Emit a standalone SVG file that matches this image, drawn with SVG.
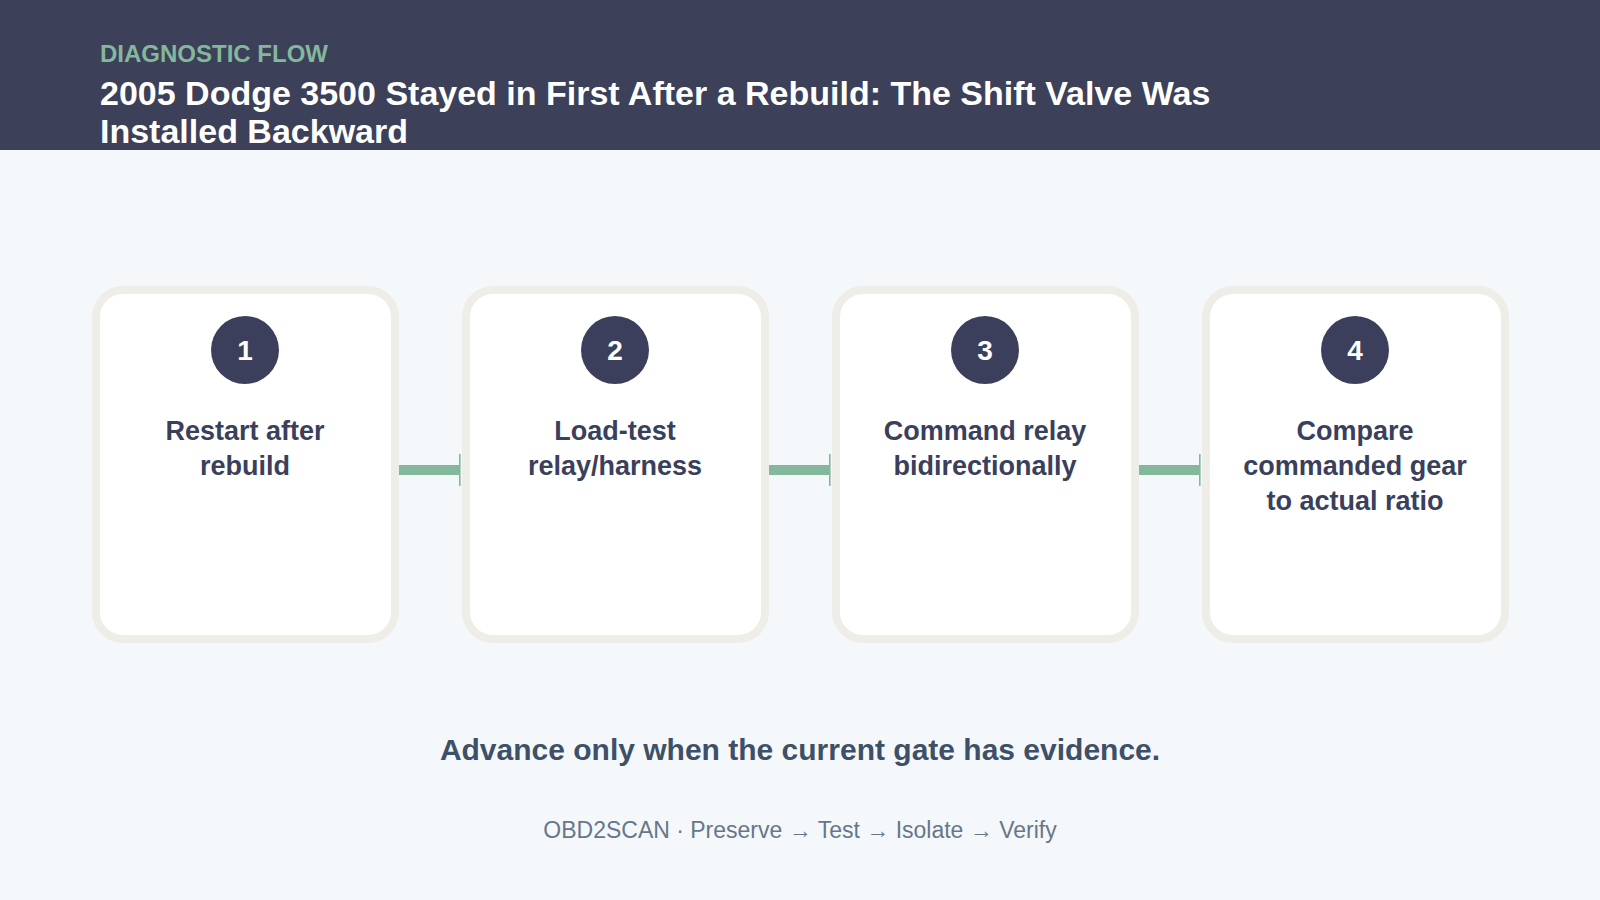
<svg xmlns="http://www.w3.org/2000/svg" width="1600" height="900" viewBox="0 0 1600 900">
<defs>
<style>
.bg{fill:#F5F8FB}
.band{fill:#3C4059}
.eyebrow{font-family:"Liberation Sans",Arial,sans-serif;font-weight:700;font-size:24px;fill:#84B89C}
.title{font-family:"Liberation Sans",Arial,sans-serif;font-weight:700;font-size:34px;fill:#FFFFFF}
.card{fill:#FFFFFF;stroke:#EEEDE8;stroke-width:8}
.badge{fill:#3B3F5B}
.num{font-family:"Liberation Sans",Arial,sans-serif;font-weight:700;font-size:28px;fill:#FFFFFF;text-anchor:middle}
.label{font-family:"Liberation Sans",Arial,sans-serif;font-weight:700;font-size:27px;fill:#3A3F5C;text-anchor:middle}
.conn{stroke:#84B89C;stroke-width:10;fill:none}
.note{font-family:"Liberation Sans",Arial,sans-serif;font-weight:700;font-size:30px;fill:#3E5068;text-anchor:middle}
.foot{font-family:"Liberation Sans",Arial,sans-serif;font-size:23px;fill:#677789;text-anchor:middle}
</style>
<marker id="tick" markerUnits="userSpaceOnUse" markerWidth="2" markerHeight="32" viewBox="0 0 2 32" refX="1" refY="16" orient="auto">
<rect x="0" y="0" width="1.6" height="32" fill="#84B89C"/>
</marker>
</defs>
<rect class="bg" x="0" y="0" width="1600" height="900"/>
<g id="header">
<rect class="band" x="0" y="0" width="1600" height="150"/>
<text class="eyebrow" x="100" y="62">DIAGNOSTIC FLOW</text>
<text class="title" x="100" y="105">2005 Dodge 3500 Stayed in First After a Rebuild: The Shift Valve Was</text>
<text class="title" x="100" y="143">Installed Backward</text>
</g>
<g id="connectors">
<line class="conn" x1="398" y1="470" x2="460" y2="470" marker-end="url(#tick)"/>
<line class="conn" x1="768" y1="470" x2="830" y2="470" marker-end="url(#tick)"/>
<line class="conn" x1="1138" y1="470" x2="1200" y2="470" marker-end="url(#tick)"/>
</g>
<g id="step1">
<rect class="card" x="96" y="290" width="299" height="349" rx="27"/>
<circle class="badge" cx="245" cy="350" r="34"/>
<text class="num" x="245" y="360">1</text>
<text class="label" x="245" y="440">Restart after</text>
<text class="label" x="245" y="475">rebuild</text>
</g>
<g id="step2">
<rect class="card" x="466" y="290" width="299" height="349" rx="27"/>
<circle class="badge" cx="615" cy="350" r="34"/>
<text class="num" x="615" y="360">2</text>
<text class="label" x="615" y="440">Load-test</text>
<text class="label" x="615" y="475">relay/harness</text>
</g>
<g id="step3">
<rect class="card" x="836" y="290" width="299" height="349" rx="27"/>
<circle class="badge" cx="985" cy="350" r="34"/>
<text class="num" x="985" y="360">3</text>
<text class="label" x="985" y="440">Command relay</text>
<text class="label" x="985" y="475">bidirectionally</text>
</g>
<g id="step4">
<rect class="card" x="1206" y="290" width="299" height="349" rx="27"/>
<circle class="badge" cx="1355" cy="350" r="34"/>
<text class="num" x="1355" y="360">4</text>
<text class="label" x="1355" y="440">Compare</text>
<text class="label" x="1355" y="475">commanded gear</text>
<text class="label" x="1355" y="510">to actual ratio</text>
</g>
<g id="footer">
<text class="note" x="800" y="760">Advance only when the current gate has evidence.</text>
<text class="foot" x="800" y="838">OBD2SCAN · Preserve → Test → Isolate → Verify</text>
</g>
</svg>
